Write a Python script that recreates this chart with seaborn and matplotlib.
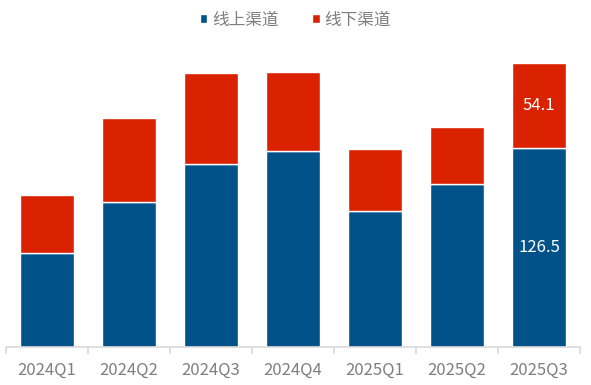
import matplotlib
matplotlib.use("Agg")
import matplotlib.pyplot as plt
import seaborn as sns
import pandas as pd
from matplotlib.patches import Patch

quarters = ["2024Q1", "2024Q2", "2024Q3", "2024Q4", "2025Q1", "2025Q2", "2025Q3"]
online = [60.1, 92.2, 116.3, 125.0, 86.5, 104.0, 126.5]
offline = [37.0, 53.5, 58.1, 49.9, 39.8, 36.1, 54.1]
series_names = ["线上渠道", "线下渠道"]

blue = "#02528A"
red = "#DB2200"

sns.set_theme(style="white")
plt.rcParams['font.family'] = ['Noto Sans CJK SC', 'DejaVu Sans']

df = pd.DataFrame({"quarter": quarters, "online": online, "offline": offline})

fig = plt.figure(figsize=(5.91, 3.85), dpi=100)
base = 347
ax = fig.add_axes([6/591, 1-base/385, (580-6)/591, (base-33)/385])

sns.barplot(data=df, x="quarter", y="online", color=blue, width=0.65,
            edgecolor="white", linewidth=1, saturation=1, ax=ax)
sns.barplot(data=df, x="quarter", y="offline", bottom=df["online"], color=red,
            width=0.65, edgecolor="white", linewidth=1, saturation=1, ax=ax)

ax.set_ylim(0, 200)
ax.set_xlim(-0.5, len(quarters) - 0.5)
ax.set_xlabel("")
ax.set_ylabel("")
ax.set_yticks([])
for s in ["top", "right", "left"]:
    ax.spines[s].set_visible(False)
ax.spines["bottom"].set_color("#d9d9d9")
ax.spines["bottom"].set_linewidth(1.2)

ax.tick_params(axis="x", which="major", length=0, labelsize=12, labelcolor="#7f7f7f", pad=11)
ax.set_xticks([i - 0.5 for i in range(len(quarters) + 1)], minor=True)
ax.tick_params(axis="x", which="minor", length=5, color="#d9d9d9", width=1.2, bottom=True)

# data labels for last quarter
i = len(quarters) - 1
ax.text(i, online[i] / 2, f"{online[i]}", ha="center", va="center", color="white", fontsize=12)
ax.text(i, online[i] + offline[i] / 2, f"{offline[i]}", ha="center", va="center", color="white", fontsize=12)

handles = [Patch(facecolor=blue, label=series_names[0]), Patch(facecolor=red, label=series_names[1])]
fig.legend(handles=handles, loc="center", bbox_to_anchor=(0.5, 1 - 20/385), ncol=2, frameon=False,
           fontsize=12, labelcolor="#7f7f7f", handlelength=0.45, handleheight=0.45,
           handletextpad=0.3, columnspacing=2.0)

fig.savefig("out.png", dpi=100)
